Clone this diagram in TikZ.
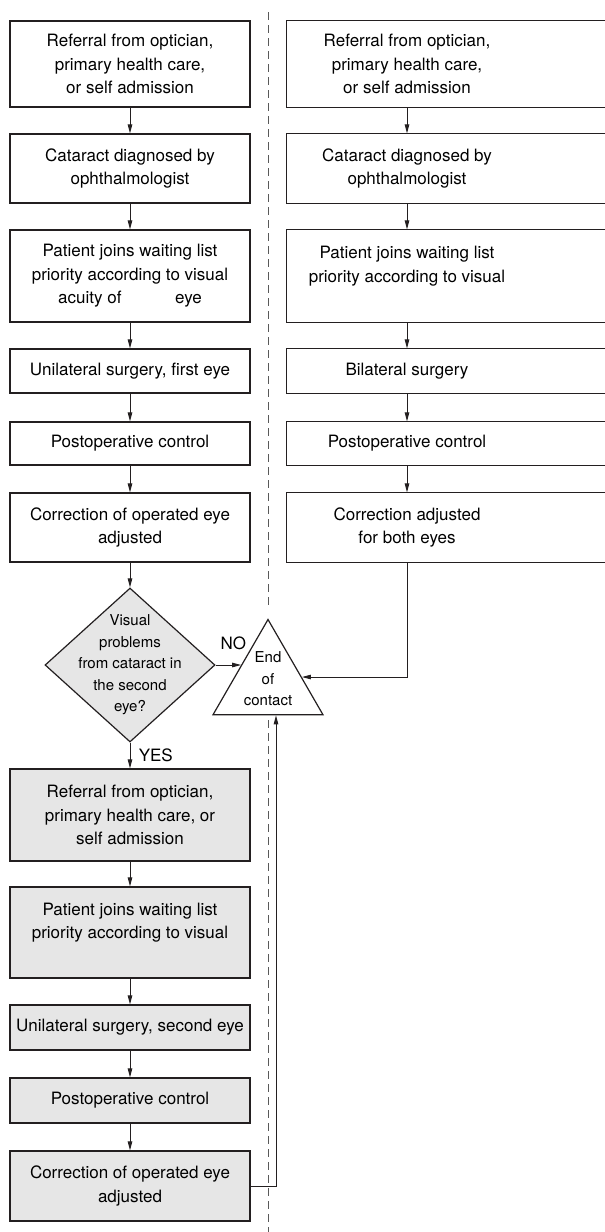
\documentclass[tikz,border=0pt]{standalone}
\usepackage{fontspec}
\setmainfont{TeX Gyre Heros}
\usepackage{tikz}
\usetikzlibrary{shapes.geometric, arrows.meta}

\definecolor{ink}{HTML}{231F20}
\definecolor{shade}{HTML}{E6E6E6}

\tikzset{
  box/.style = {draw = ink, line width = 1.2pt, minimum width = 240pt,
    align = center, inner sep = 0pt,
    font = \fontsize{17}{23.5}\selectfont},
  greybox/.style = {box, fill = shade},
  rbox/.style = {box, draw = none},
  frame/.style = {draw = ink, line width = 1.2pt},
  arr/.style = {draw = ink, line width = 0.9pt,
    -{Triangle[length = 9pt, width = 4.5pt]}},
  small/.style = {align = center, inner sep = 0pt,
    font = \fontsize{15}{21.5}\selectfont},
  tag/.style = {font = \fontsize{17}{20}\selectfont},
  divider/.style = {draw = gray!70!black, line width = 0.9pt,
    dash pattern = on 8pt off 5pt}
}

\begin{document}
\begin{tikzpicture}[x = 1pt, y = -1pt]
\useasboundingbox (0, 0) rectangle (605, 1232);
%\draw[very thin, color = gray](0, 0) grid[step = 50] (605, 1232);
\coordinate (edge) at (605, 0);
\coordinate (top) at (268, 12);
\coordinate (bottom) at (268, 1232);

% left column, first eye
\node (l1) at (130, 64) [box, minimum height = 86pt]
  {Referral from optician,\\primary health care,\\or self admission};
\node (l2) at (130, 168.5) [box, minimum height = 69pt]
  {Cataract diagnosed by\\ophthalmologist};
\node (l3) at (130, 276) [box, minimum height = 92pt]
  {Patient joins waiting list\\priority according to visual\\acuity of \hspace{2.6em} eye};
\node (l4) at (130, 371) [box, minimum height = 44pt]
  {Unilateral surgery, first eye};
\node (l5) at (130, 443.5) [box, minimum height = 43pt]
  {Postoperative control};
\node (l6) at (130, 527.5) [box, minimum height = 69pt]
  {Correction of operated eye\\adjusted};

% right column, both eyes (boxes run off the page)
\node (r1) at (407, 64) [rbox, minimum height = 86pt]
  {Referral from optician,\\primary health care,\\or self admission};
\node (r2) at (407, 168.5) [rbox, minimum height = 69pt]
  {Cataract diagnosed by\\ophthalmologist};
\node (r3) at (407, 276) [rbox, minimum height = 92pt]
  {Patient joins waiting list\\priority according to visual\\\mbox{}};
\node (r4) at (407, 371) [rbox, minimum height = 44pt]
  {Bilateral surgery};
\node (r5) at (407, 443.5) [rbox, minimum height = 43pt]
  {Postoperative control};
\node (r6) at (407, 527.5) [rbox, minimum height = 69pt]
  {Correction adjusted\\for both eyes};
\foreach \n in {r1, r2, r3, r4, r5, r6}
  \draw[frame] (\n.north -| edge) -| (\n.south west) -- (\n.south -| edge);

% decision and end
\node (vis) at (130, 665) [diamond, draw = ink, line width = 1.2pt, fill = shade,
  minimum width = 170pt, minimum height = 154pt, inner sep = 0pt] {};
\node at (vis.center) [small] {Visual\\problems\\from cataract in\\the second\\eye?};
\node (end) at (268, 683) [regular polygon, regular polygon sides = 3,
  draw = ink, line width = 1.2pt, minimum size = 127pt, inner sep = 0pt] {};
\node at ([yshift = 4pt]end.center) [small] {End\\of\\contact};

% left column, second eye
\node (g1) at (130, 815) [greybox, minimum height = 92pt]
  {Referral from optician,\\primary health care, or\\self admission};
\node (g2) at (130, 932.5) [greybox, minimum height = 91pt]
  {Patient joins waiting list\\priority according to visual\\\mbox{}};
\node (g3) at (130, 1027.5) [greybox, minimum height = 45pt]
  {Unilateral surgery, second eye};
\node (g4) at (130, 1100.5) [greybox, minimum height = 45pt]
  {Postoperative control};
\node (g5) at (130, 1186) [greybox, minimum height = 70pt]
  {Correction of operated eye\\adjusted};

% dividing line
\draw[divider] (top) -- ([yshift = 10pt]end.north);
\draw[divider] ([yshift = -5pt]end.south) -- (bottom);

% arrows
\foreach \a/\b in {l1/l2, l2/l3, l3/l4, l4/l5, l5/l6, l6/vis,
  r1/r2, r2/r3, r3/r4, r4/r5, r5/r6, g1/g2, g2/g3, g3/g4, g4/g5}
  \draw[arr] (\a) -- (\b);
\draw[arr] (vis) -- (g1) node [midway, right = 5pt, tag] {YES};
\draw[arr] (vis.east) -- (vis.east -| end.146) node [pos = 0.7, above = 11pt, tag] {NO};
\draw[arr] (r6.south) |- (end.10);
\draw[arr] (g5.east) -| ([xshift = 8pt]end.south);
\end{tikzpicture}
\end{document}
